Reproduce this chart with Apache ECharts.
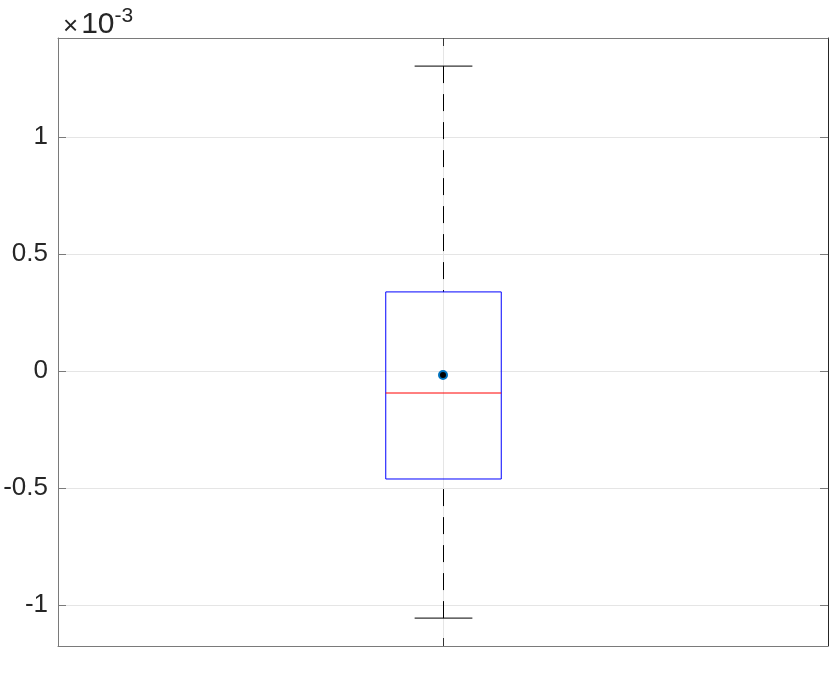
<!DOCTYPE html>
<html>
<head>
<meta charset="utf-8">
<script src="https://cdn.jsdelivr.net/npm/echarts@6/dist/echarts.min.js"></script>
<style>
html,body{margin:0;padding:0;background:#fff;}
#chart{width:830px;height:684px;}
</style>
</head>
<body>
<div id="chart"></div>
<script>
// values in units of 1e-3
const groupPositions = [1];
const lowerWhisker = [-1.056];
const lowerQuartile = [-0.4615];
const medianValues = [-0.094];
const upperQuartile = [0.338];
const upperWhisker = [1.303];
const meanValues = [-0.017];
const yTickValues = [-1, -0.5, 0, 0.5, 1];
const yTickLabels = ['-1', '-0.5', '0', '0.5', '1'];
const exponentText = '-3';

const data = groupPositions.map((x, i) => [x, lowerWhisker[i], lowerQuartile[i], medianValues[i], upperQuartile[i], upperWhisker[i], meanValues[i]]);

const chart = echarts.init(document.getElementById('chart'), null, {renderer: 'canvas'});
const FONT = '"Liberation Sans", Arial, Helvetica, sans-serif';
const axisGray = '#7a7a7a';

function renderItem(params, api) {
  const x = api.value(0);
  const c = (y) => api.coord([x, y]);
  const pLow = c(api.value(1)), pQ1 = c(api.value(2)), pMed = c(api.value(3)),
        pQ3 = c(api.value(4)), pHigh = c(api.value(5)), pMean = c(api.value(6));
  const boxHalf = api.size([0.15, 0])[0];
  const capHalf = api.size([0.075, 0])[0];
  const cx = Math.round(pMed[0]) + 0.5;
  const children = [];
  // whiskers (dashed)
  children.push({type: 'line', shape: {x1: cx, y1: pHigh[1], x2: cx, y2: pQ3[1]},
    style: {stroke: '#000', lineWidth: 1, lineDash: [17, 11]}});
  children.push({type: 'line', shape: {x1: cx, y1: pLow[1], x2: cx, y2: pQ1[1]},
    style: {stroke: '#000', lineWidth: 1, lineDash: [17, 11]}});
  // caps
  children.push({type: 'line', shape: {x1: cx - capHalf, y1: pHigh[1], x2: cx + capHalf, y2: pHigh[1]},
    style: {stroke: '#000', lineWidth: 1}});
  children.push({type: 'line', shape: {x1: cx - capHalf, y1: pLow[1], x2: cx + capHalf, y2: pLow[1]},
    style: {stroke: '#000', lineWidth: 1}});
  // box
  children.push({type: 'rect', shape: {x: cx - boxHalf, y: pQ3[1], width: 2 * boxHalf, height: pQ1[1] - pQ3[1]},
    style: {fill: null, stroke: '#0000ff', lineWidth: 1}});
  // median
  children.push({type: 'line', shape: {x1: cx - boxHalf, y1: pMed[1], x2: cx + boxHalf, y2: pMed[1]},
    style: {stroke: '#ff0000', lineWidth: 1}});
  // mean
  children.push({type: 'circle', shape: {cx: pMean[0], cy: pMean[1], r: 4},
    style: {fill: '#000', stroke: '#0072BD', lineWidth: 2}});
  return {type: 'group', children: children};
}

const xAxisCommon = {
  type: 'value', min: 0, max: 2, interval: 1,
  axisLabel: {show: false},
  axisTick: {show: true, inside: true, length: 8, customValues: groupPositions, lineStyle: {color: '#333'}},
  splitLine: {show: false},
};

chart.setOption({
  animation: false,
  backgroundColor: '#fff',
  title: {
    text: '{x|\u00d7}{b|10}{e|' + exponentText + '}',
    left: 58, top: 1,
    textStyle: {
      fontWeight: 'normal',
      rich: {
        x: {fontFamily: FONT, fontSize: 26, fontWeight: 'normal', color: '#262626', verticalAlign: 'bottom', lineHeight: 34, padding: [0, 3, 0, 0]},
        b: {fontFamily: FONT, fontSize: 30, fontWeight: 'normal', color: '#262626', verticalAlign: 'bottom', lineHeight: 34},
        e: {fontFamily: FONT, fontSize: 21, fontWeight: 'normal', color: '#262626', verticalAlign: 'top', lineHeight: 34, padding: [0, 0, 14, 0]}
      }
    }
  },
  grid: {left: 58, right: 2, top: 38, bottom: 38, show: false},
  xAxis: [
    Object.assign({}, xAxisCommon, {
      position: 'bottom',
      axisLine: {show: true, onZero: false, lineStyle: {color: axisGray, width: 1}},
      splitLine: {show: true, lineStyle: {color: '#e5e5e5', width: 1}}
    }),
    Object.assign({}, xAxisCommon, {
      position: 'top',
      axisLine: {show: true, onZero: false, lineStyle: {color: axisGray, width: 1}}
    })
  ],
  yAxis: [
    {
      type: 'value', min: -1.1752, max: 1.4231, position: 'left',
      axisLine: {show: true, onZero: false, lineStyle: {color: axisGray, width: 1}},
      axisTick: {show: true, inside: true, length: 8, customValues: yTickValues, lineStyle: {color: axisGray}},
      axisLabel: {
        show: true, customValues: yTickValues, margin: 10,
        fontFamily: FONT, fontSize: 26, color: '#262626',
        formatter: (v) => { const i = yTickValues.indexOf(v); return i >= 0 ? yTickLabels[i] : ''; }
      },
      splitLine: {show: true, lineStyle: {color: '#e5e5e5', width: 1}}
    },
    {
      type: 'value', min: -1.1752, max: 1.4231, position: 'right',
      axisLine: {show: true, onZero: false, lineStyle: {color: '#262626', width: 1}},
      axisTick: {show: true, inside: true, length: 8, customValues: yTickValues, lineStyle: {color: axisGray}},
      axisLabel: {show: false},
      splitLine: {show: false}
    }
  ],
  series: [{
    type: 'custom',
    xAxisIndex: 0, yAxisIndex: 0,
    renderItem: renderItem,
    data: data,
    encode: {x: 0, y: [1, 2, 3, 4, 5, 6]},
    clip: false,
    z: 10
  }]
});
</script>
</body>
</html>
